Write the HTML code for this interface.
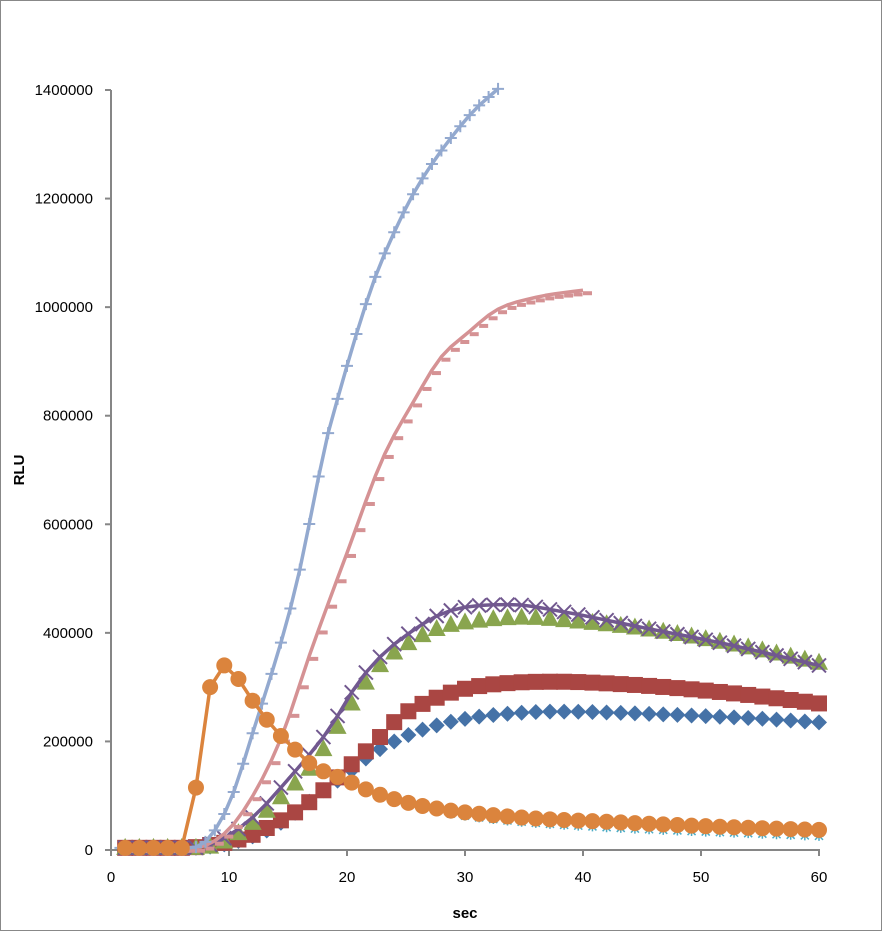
<!DOCTYPE html><html><head><style>body{margin:0;background:#fff}svg{display:block}text{font-family:"Liberation Sans",sans-serif;font-size:15px;fill:#000}</style></head><body>
<svg id="s" width="882" height="931" xmlns="http://www.w3.org/2000/svg">
<rect x="0.5" y="0.5" width="881" height="930" fill="#fff" stroke="#888" stroke-width="1"/>
<g id="g"></g>
</svg>
<script>
const NS="http://www.w3.org/2000/svg",g=document.getElementById('g');
const X=t=>111+t*11.8,Y=v=>850-v/1400000*760;
function el(n,a){const e=document.createElementNS(NS,n);for(const k in a)e.setAttribute(k,a[k]);g.appendChild(e);return e}
el('line',{x1:111,y1:90,x2:111,y2:851,stroke:'#868686','stroke-width':2});
el('line',{x1:110,y1:850,x2:820,y2:850,stroke:'#868686','stroke-width':2});
for(let i=0;i<=7;i++){const y=Y(i*200000);el('line',{x1:105,y1:y,x2:111,y2:y,stroke:'#868686','stroke-width':2});
const t=el('text',{x:93,y:y+5,'text-anchor':'end'});t.textContent=String(i*200000);}
for(let i=0;i<=6;i++){const x=X(i*10);el('line',{x1:x,y1:850,x2:x,y2:856,stroke:'#868686','stroke-width':2});
const t=el('text',{x:x,y:882,'text-anchor':'middle'});t.textContent=String(i*10);}
let t=el('text',{x:465,y:918,'text-anchor':'middle','font-weight':'bold'});t.textContent='sec';
t=el('text',{x:24,y:470,'text-anchor':'middle','font-weight':'bold',transform:'rotate(-90 24 470)'});t.textContent='RLU';
// monotone cubic interpolation
function f(p,x){const n=p.length;if(x<=p[0][0])return p[0][1];if(x>=p[n-1][0])return p[n-1][1];
const d=[],m=[];for(let i=0;i<n-1;i++)d.push((p[i+1][1]-p[i][1])/(p[i+1][0]-p[i][0]));
m[0]=d[0];m[n-1]=d[n-2];for(let i=1;i<n-1;i++)m[i]=(d[i-1]*d[i]<=0)?0:(d[i-1]+d[i])/2;
for(let i=0;i<n-1;i++){if(d[i]==0){m[i]=0;m[i+1]=0;continue;}const a=m[i]/d[i],b=m[i+1]/d[i],s=a*a+b*b;if(s>9){const tt=3/Math.sqrt(s);m[i]=tt*a*d[i];m[i+1]=tt*b*d[i];}}
let i=0;while(x>p[i+1][0])i++;const h=p[i+1][0]-p[i][0],u=(x-p[i][0])/h;
const h00=2*u*u*u-3*u*u+1,h10=u*u*u-2*u*u+u,h01=-2*u*u*u+3*u*u,h11=u*u*u-u*u;
return h00*p[i][1]+h10*h*m[i]+h01*p[i+1][1]+h11*h*m[i+1];}
const K=1000;
const S={
lb:[[0,4*K],[6.5,4*K],[8,15*K],[10,85*K],[12,215*K],[15.6,479*K],[18.4,768*K],[19.24,834*K],[20.85,954*K],[22.37,1054*K],[23.98,1137*K],[25.6,1208*K],[27.3,1267*K],[29,1317*K],[30.8,1363*K],[32.9,1404*K]],
pk:[[0,4*K],[7,4*K],[9,20*K],[11,65*K],[14.3,200*K],[17,370*K],[20.1,553*K],[23,720*K],[25.8,832*K],[27.9,906*K],[30.2,952*K],[32.7,995*K],[36,1018*K],[40.6,1033*K]],
pu:[[0,4*K],[7,4*K],[9,15*K],[12,60*K],[15,130*K],[18.4,220*K],[21,310*K],[23,360*K],[25.3,400*K],[28,435*K],[31,450*K],[34,452*K],[38,440*K],[45,410*K],[52,380*K],[60,340*K]],
gr:[[0,4*K],[7,4*K],[9,10*K],[12,50*K],[15,110*K],[17,155*K],[19,220*K],[21,290*K],[23,345*K],[25.5,385*K],[28,410*K],[31,422*K],[35,428*K],[40,420*K],[45,408*K],[52,382*K],[60,345*K]],
rd:[[0,4*K],[6.5,4*K],[8,8*K],[10,15*K],[12,28*K],[14,50*K],[16,75*K],[18,110*K],[20,150*K],[22,190*K],[24.5,245*K],[27,275*K],[30,297*K],[34,308*K],[38,310*K],[42,307*K],[47,300*K],[53,288*K],[60,270*K]],
bl:[[0,4*K],[6.5,4*K],[9,8*K],[12,25*K],[14,45*K],[16,75*K],[18,110*K],[20,140*K],[22,175*K],[25,210*K],[28,232*K],[31,245*K],[35,253*K],[38,255*K],[44,252*K],[50,247*K],[55,242*K],[60,235*K]],
or:[[0,4*K],[6,4*K],[7.2,115*K],[8.4,300*K],[9.6,340*K],[10.8,315*K],[12,275*K],[13.2,240*K],[14.4,210*K],[15.6,185*K],[16.8,160*K],[18,145*K],[20,128*K],[22,108*K],[25,88*K],[28,75*K],[32,65*K],[36,58*K],[42,52*K],[48,46*K],[54,41*K],[60,37*K]],
tl:[[0,4*K],[6,4*K],[7.2,118*K],[8.4,305*K],[9.6,342*K],[10.8,316*K],[12,276*K],[13.2,240*K],[14.4,210*K],[15.6,185*K],[16.8,160*K],[18,145*K],[20,128*K],[22,108*K],[25,85*K],[28,70*K],[32,58*K],[36,50*K],[42,42*K],[48,36*K],[54,31*K],[60,26*K]]};
function pts(s,max,step){step=step||1.2;const a=[];for(let k=1;;k++){const x=step*k;if(x>max+0.01)break;a.push([X(x),Y(f(S[s],x))]);}return a;}
function line(p,c,w){el('polyline',{points:p.map(q=>q.join(',')).join(' '),fill:'none',stroke:c,'stroke-width':w,'stroke-linejoin':'round'});}
pts('tl',60).forEach(([x,y])=>{el('path',{d:`M${x-5} ${y}h10M${x} ${y-5}v10M${x-4} ${y-4}l8 8M${x+4} ${y-4}l-8 8`,stroke:'#4bacc6','stroke-width':1.5});});
pts('bl',60).forEach(([x,y])=>el('path',{d:`M${x} ${y-8}L${x+8} ${y}L${x} ${y+8}L${x-8} ${y}Z`,fill:'#4572a7'}));
pts('rd',60).forEach(([x,y])=>el('rect',{x:x-8,y:y-8,width:16,height:16,fill:'#aa4643'}));
pts('gr',60).forEach(([x,y])=>el('path',{d:`M${x} ${y-10}L${x+9} ${y+7}L${x-9} ${y+7}Z`,fill:'#89a54e'}));
const pu=pts('pu',60);line(pu,'#71588f',3.5);
pu.forEach(([x,y])=>el('path',{d:`M${x-7} ${y-7}l14 14M${x+7} ${y-7}l-14 14`,stroke:'#71588f','stroke-width':2}));
const pk=pts('pk',40.6,0.8);line(pk,'#d59294',3.5);
pk.forEach(([x,y])=>el('path',{d:`M${x} ${y+3}h9`,stroke:'#d59294','stroke-width':4}));
const lb=pts('lb',33,0.8);line(lb,'#93a9cf',3.5);
lb.forEach(([x,y])=>el('path',{d:`M${x-6} ${y}h12M${x} ${y-6}v12`,stroke:'#93a9cf','stroke-width':2}));
const or=pts('or',60);line(or,'#db843d',3.5);
or.forEach(([x,y])=>el('circle',{cx:x,cy:y,r:8,fill:'#db843d'}));
</script></body></html>
